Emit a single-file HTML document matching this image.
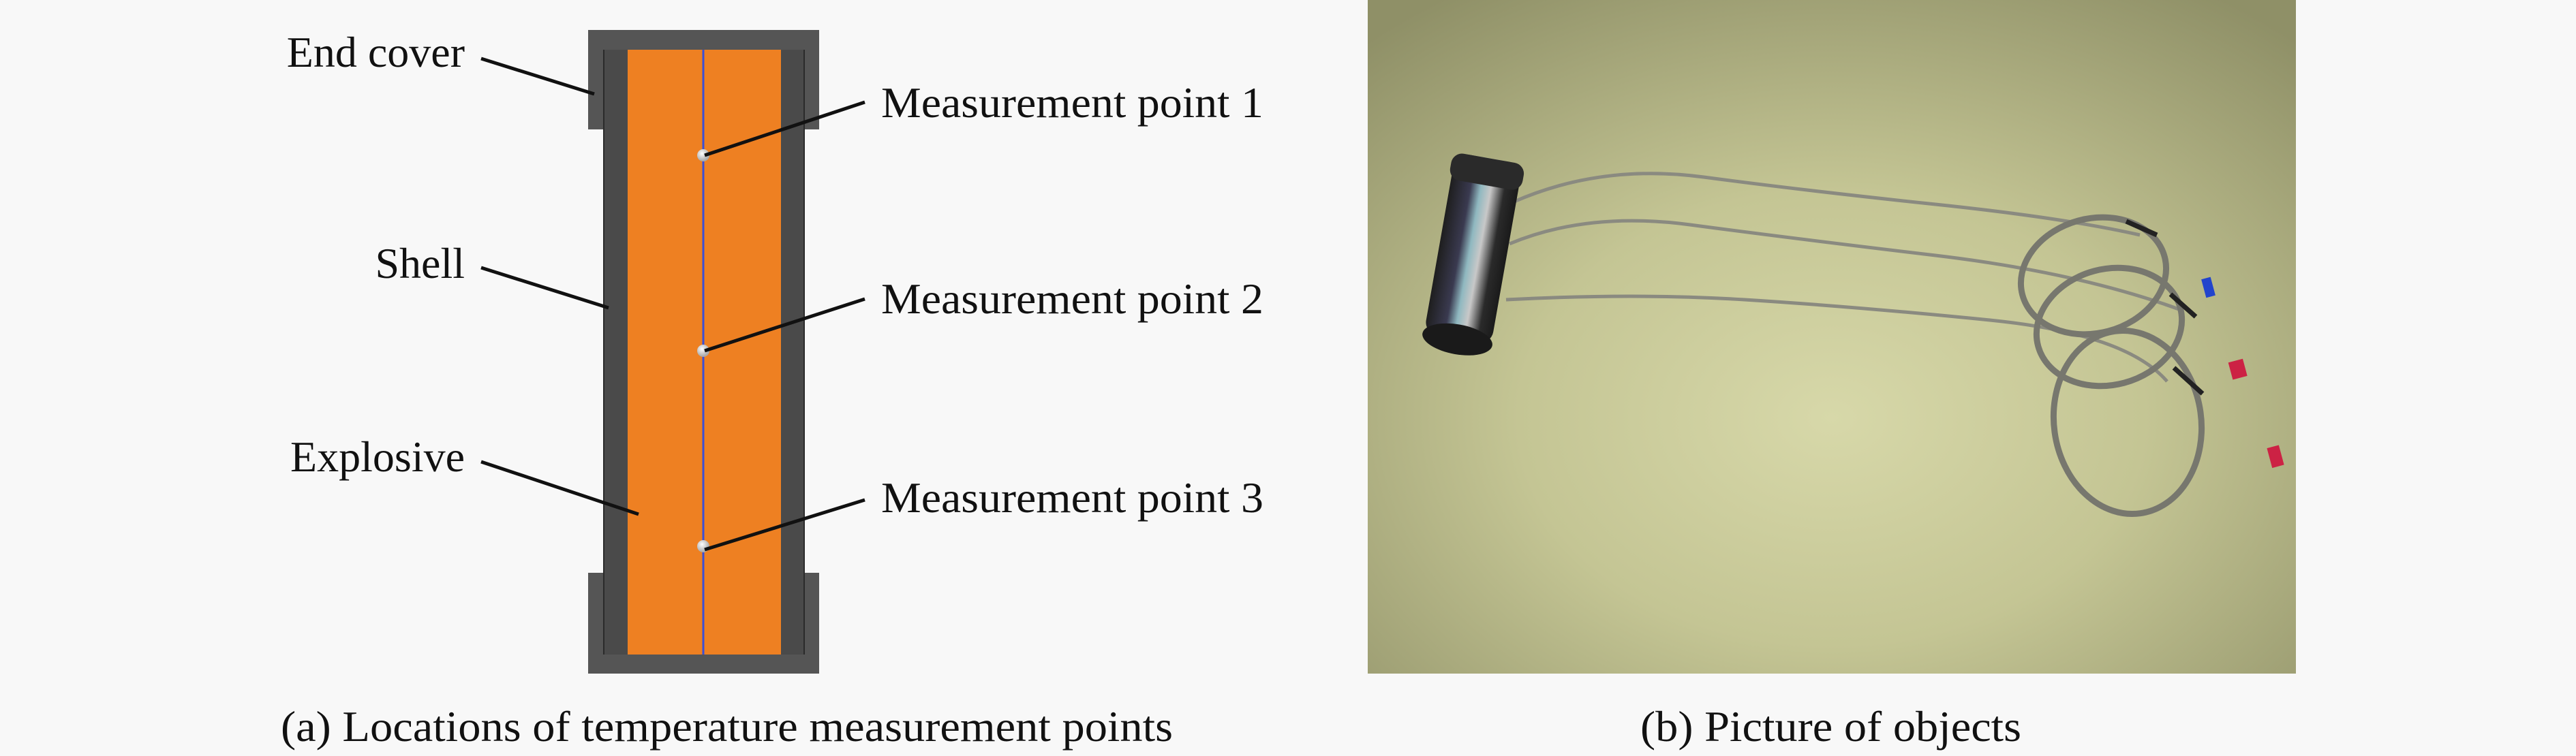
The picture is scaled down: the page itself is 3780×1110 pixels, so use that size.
<!DOCTYPE html>
<html><head><meta charset="utf-8"><style>
html,body{margin:0;padding:0;background:#f8f8f8;}
svg{display:block;}
text{font-family:"Liberation Serif",serif;fill:#111;}
</style></head><body>
<svg width="3780" height="1110" viewBox="0 0 3780 1110" xmlns="http://www.w3.org/2000/svg">
<defs>
<radialGradient id="bg" cx="0.5" cy="0.62" r="0.75">
<stop offset="0" stop-color="#d7d8a9"/>
<stop offset="0.45" stop-color="#c4c594"/>
<stop offset="1" stop-color="#8f9067"/>
</radialGradient>
<linearGradient id="cyl" x1="0" y1="0" x2="1" y2="0">
<stop offset="0" stop-color="#1e1e1e"/>
<stop offset="0.3" stop-color="#3a3a50"/>
<stop offset="0.45" stop-color="#8fb8c0"/>
<stop offset="0.6" stop-color="#c8c8c8"/>
<stop offset="0.8" stop-color="#2a2a2a"/>
<stop offset="1" stop-color="#1a1a1a"/>
</linearGradient>
<radialGradient id="ball" cx="0.4" cy="0.35" r="0.6">
<stop offset="0" stop-color="#ffffff"/><stop offset="1" stop-color="#aaaaaa"/>
</radialGradient>
</defs>
<rect width="3780" height="1110" fill="#f8f8f8"/>
<!-- diagram (a) -->
<rect x="863" y="44" width="339" height="146" fill="#555"/>
<rect x="863" y="841" width="339" height="148" fill="#555"/>
<rect x="885" y="44" width="296" height="945" fill="#555"/>
<rect x="885" y="73" width="296" height="888" fill="#4a4a4a"/>
<rect x="885" y="73" width="2" height="888" fill="#2a2a2a"/>
<rect x="1179" y="73" width="2" height="888" fill="#2a2a2a"/>
<rect x="921" y="73" width="225" height="888" fill="#ee8022"/>
<line x1="1032" y1="73" x2="1032" y2="961" stroke="#3a4fd8" stroke-width="3"/>
<circle cx="1032" cy="228" r="9" fill="url(#ball)"/>
<circle cx="1032" cy="515" r="9" fill="url(#ball)"/>
<circle cx="1032" cy="802" r="9" fill="url(#ball)"/>
<g stroke="#111" stroke-width="5">
<line x1="706" y1="86" x2="872" y2="138"/>
<line x1="706" y1="393" x2="893" y2="452"/>
<line x1="706" y1="678" x2="937" y2="755"/>
<line x1="1269" y1="150" x2="1034" y2="228"/>
<line x1="1269" y1="439" x2="1034" y2="515"/>
<line x1="1269" y1="734" x2="1034" y2="807"/>
</g>
<g font-size="64">
<text x="682" y="98" text-anchor="end">End cover</text>
<text x="682" y="408" text-anchor="end">Shell</text>
<text x="682" y="692" text-anchor="end">Explosive</text>
<text x="1293" y="172" textLength="561" lengthAdjust="spacingAndGlyphs">Measurement point 1</text>
<text x="1293" y="460" textLength="561" lengthAdjust="spacingAndGlyphs">Measurement point 2</text>
<text x="1293" y="752" textLength="561" lengthAdjust="spacingAndGlyphs">Measurement point 3</text>
<text x="412" y="1088" textLength="1309" lengthAdjust="spacingAndGlyphs">(a) Locations of temperature measurement points</text>
<text x="2407" y="1088" textLength="559" lengthAdjust="spacingAndGlyphs">(b) Picture of objects</text>
</g>
<!-- photo (b) -->
<rect x="2007" y="0" width="1362" height="989" fill="url(#bg)"/>
<g fill="none" stroke="#8a8a80" stroke-width="5">
<path d="M2222 296 Q2350 240 2500 260 T2840 300 T3140 345"/>
<path d="M2215 358 Q2330 310 2480 330 T2840 375 T3200 455"/>
<path d="M2210 440 Q2400 430 2560 440 T2920 470 T3180 560"/>
</g>
<g fill="none" stroke="#77776e" stroke-width="9">
<ellipse cx="3072" cy="405" rx="108" ry="84" transform="rotate(-15 3072 405)"/>
<ellipse cx="3095" cy="480" rx="108" ry="85" transform="rotate(-15 3095 480)"/>
<ellipse cx="3122" cy="620" rx="108" ry="135" transform="rotate(-8 3122 620)"/>
</g>
<g stroke="#222" stroke-width="7">
<line x1="3120" y1="325" x2="3165" y2="345"/>
<line x1="3185" y1="432" x2="3222" y2="465"/>
<line x1="3190" y1="540" x2="3232" y2="578"/>
</g>
<rect x="3233" y="408" width="14" height="28" fill="#2244cc" transform="rotate(-15 3240 420)"/>
<rect x="3272" y="530" width="22" height="26" fill="#cc2244" transform="rotate(-15 3280 540)"/>
<rect x="3330" y="655" width="18" height="30" fill="#cc2244" transform="rotate(-15 3340 670)"/>
<g transform="rotate(10 2160 365)">
<rect x="2112" y="230" width="100" height="270" rx="20" fill="url(#cyl)"/>
<ellipse cx="2162" cy="500" rx="52" ry="22" fill="#1a1a1a"/>
<rect x="2108" y="230" width="108" height="40" rx="16" fill="#2a2a2a"/>
</g>
</svg>
</body></html>
